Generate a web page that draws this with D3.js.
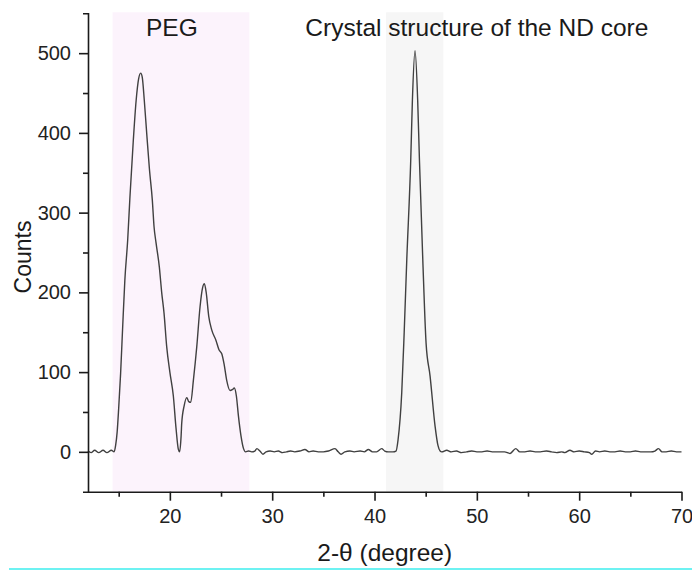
<!DOCTYPE html>
<html>
<head>
<meta charset="utf-8">
<script src="https://cdn.jsdelivr.net/npm/d3@7"></script>
<style>
  html, body { margin: 0; padding: 0; background: #fff; }
  svg { display: block; font-family: Arial, "Liberation Sans", sans-serif; }
</style>
</head>
<body>
<svg id="chart" width="692" height="570"></svg>
<script>
// ---- data ----
const xDomain = [12, 70];
const yDomain = [-50, 550];
const xMajorTicks = [20, 30, 40, 50, 60, 70];
const xMinorTicks = [15, 25, 35, 45, 55, 65];
const yMajorTicks = [0, 100, 200, 300, 400, 500];
const yMinorTicks = [50, 150, 250, 350, 450];

const twoTheta = [
  12.0, 12.3, 12.65, 13.05, 13.47, 13.85, 14.28, 14.55,
  14.7, 14.85, 15.0, 15.19, 15.4, 15.6, 15.88, 16.1, 16.43, 16.7, 16.95, 17.15,
  17.3, 17.5, 17.74, 18.0, 18.29, 18.45, 18.65, 18.97, 19.2, 19.43, 19.69, 20.0,
  20.34, 20.6, 20.83, 20.95, 21.1, 21.16, 21.4, 21.65, 21.85, 22.04, 22.3, 22.63,
  22.95, 23.2, 23.37, 23.55, 23.8, 24.09, 24.5, 24.8, 25.07, 25.3, 25.55, 25.88,
  26.1, 26.3, 26.5, 26.7, 26.95, 27.2, 27.4, 27.7, 28.0, 28.3, 28.5, 28.8, 29.1,
  29.4, 29.8, 30.2, 30.6, 31.0, 31.4, 31.8, 32.2, 32.7, 33.2, 33.6, 34.0, 34.5,
  35.0, 35.5, 36.14, 36.45, 36.73, 37.1, 37.6, 38.0, 38.6, 39.0, 39.4, 39.8, 40.2,
  40.7, 41.0, 41.35, 41.8, 42.1, 42.3, 42.66, 42.9, 43.15, 43.54, 43.7, 43.96,
  44.22, 44.39, 44.72, 45.04, 45.43, 45.92, 46.2, 46.41, 46.57, 47.06, 47.5, 48.0,
  48.5, 49.0, 49.5, 50.0, 50.5, 51.0, 51.5, 52.0, 52.7, 53.25, 53.8, 54.2, 54.7,
  55.2, 55.7, 56.2, 56.8, 57.3, 57.8, 58.3, 58.6, 59.1, 59.5, 60.0, 60.5, 61.0,
  61.23, 61.6, 62.0, 62.5, 63.0, 63.5, 64.0, 64.5, 65.0, 65.5, 66.0, 66.5, 67.0,
  67.4, 67.75, 68.1, 68.5, 69.0, 69.5, 70.0
];
const counts = [
  1, -1, 2, -1, 2, -1, 2, 0,
  8, 25, 55, 99, 160, 215, 266, 320, 391, 440, 468, 475,
  470, 441, 399, 355, 315, 283, 262, 232, 200, 174, 132, 100,
  70, 30, 3, 0, 20, 36, 58, 68, 63, 62, 90, 132,
  182, 206, 211, 200, 170, 153, 140, 128, 123, 110, 90, 77,
  78, 80, 70, 45, 20, 4, 0, 1, 0, 1, 4, 1, -3,
  0, 1, 0, 1, -1, 0, 1, 0, 1, 3, 0, 1, 0,
  0, 1, 4, 0, -3, 0, 1, 0, 1, 0, 3, 0, 0,
  4, 1, 0, 0, 1, 15, 74, 150, 240, 366, 440, 503,
  440, 366, 240, 136, 95, 32, 8, 1, 0, 2, 0, 1,
  -1, 0, 1, 0, 0, 1, 0, 0, 0, -2, 4, 0, 0,
  1, 0, 0, 1, 0, -1, 0, -1, 2, 0, 1, 0, -1,
  -3, 1, 0, 1, 0, 0, 1, 0, 0, 1, 0, 0, 0,
  1, 4, 0, 0, 1, 0, 0
];

const bandLabels = ["PEG", "Crystal structure of the ND core"];
const bandStart = [14.4, 41.13];
const bandEnd = [27.77, 46.73];
const bandColors = ["#fcf3fc", "#f6f6f6"];
const labelPos = [20.2, 50.0];

// ---- layout ----
const svg = d3.select("#chart");
const mLeft = 88, mRight = 681.5, mTop = 13.3, mBottom = 491.7;

const x = d3.scaleLinear().domain(xDomain).range([mLeft, mRight]);
const y = d3.scaleLinear().domain(yDomain).range([mBottom, mTop]);

// bands
svg.append("g").selectAll("rect")
  .data(bandLabels.map((d, i) => ({ s: bandStart[i], e: bandEnd[i], c: bandColors[i] })))
  .join("rect")
  .attr("x", d => x(d.s))
  .attr("width", d => x(d.e) - x(d.s))
  .attr("y", mTop - 1)
  .attr("height", mBottom - mTop + 1)
  .attr("fill", d => d.c);

// band labels
svg.append("g").selectAll("text")
  .data(bandLabels.map((d, i) => ({ t: d, p: labelPos[i] })))
  .join("text")
  .attr("x", d => x(d.p))
  .attr("y", 35.5)
  .attr("text-anchor", "middle")
  .attr("font-size", 24.5)
  .attr("fill", "#1a1a1a")
  .text(d => d.t);

// spectrum line
const pts = twoTheta.map((d, i) => [d, counts[i]]);
svg.append("path")
  .datum(pts)
  .attr("fill", "none")
  .attr("stroke", "#404040")
  .attr("stroke-width", 1.4)
  .attr("stroke-linejoin", "round")
  .attr("d", d3.line().x(d => x(d[0])).y(d => y(d[1])).curve(d3.curveMonotoneX));

// axes
const axisColor = "#1a1a1a";
function styleAxis(g) {
  g.selectAll("path, line").attr("stroke", axisColor).attr("stroke-width", 1.6);
  g.selectAll("text").attr("fill", "#222").attr("font-size", 20)
    .attr("font-family", "Arial, 'Liberation Sans', sans-serif");
}

const gx = svg.append("g").attr("transform", `translate(0,${mBottom})`)
  .call(d3.axisBottom(x).tickValues(xMajorTicks).tickSize(9).tickSizeOuter(0).tickPadding(8).tickFormat(d3.format("d")));
styleAxis(gx);
const gxm = svg.append("g").attr("transform", `translate(0,${mBottom})`)
  .call(d3.axisBottom(x).tickValues(xMinorTicks).tickSize(5).tickFormat(""));
gxm.select(".domain").remove();
styleAxis(gxm);

const gy = svg.append("g").attr("transform", `translate(${mLeft},0)`)
  .call(d3.axisLeft(y).tickValues(yMajorTicks).tickSize(9).tickSizeOuter(5).tickPadding(8).tickFormat(d3.format("d")));
styleAxis(gy);
const gym = svg.append("g").attr("transform", `translate(${mLeft},0)`)
  .call(d3.axisLeft(y).tickValues(yMinorTicks).tickSize(5).tickFormat(""));
gym.select(".domain").remove();
styleAxis(gym);

// axis titles
svg.append("text")
  .attr("x", (mLeft + mRight) / 2)
  .attr("y", 560.5)
  .attr("text-anchor", "middle")
  .attr("font-size", 24.5)
  .attr("fill", "#1a1a1a")
  .text("2-θ (degree)");

svg.append("text")
  .attr("transform", "translate(31,257) rotate(-90)")
  .attr("text-anchor", "middle")
  .attr("font-size", 23)
  .attr("fill", "#1a1a1a")
  .text("Counts");

// thin cyan rule at the very bottom
svg.append("line")
  .attr("x1", 9).attr("x2", 692)
  .attr("y1", 569).attr("y2", 569)
  .attr("stroke", "#3ceeee")
  .attr("stroke-width", 1.5);
</script>
</body>
</html>
